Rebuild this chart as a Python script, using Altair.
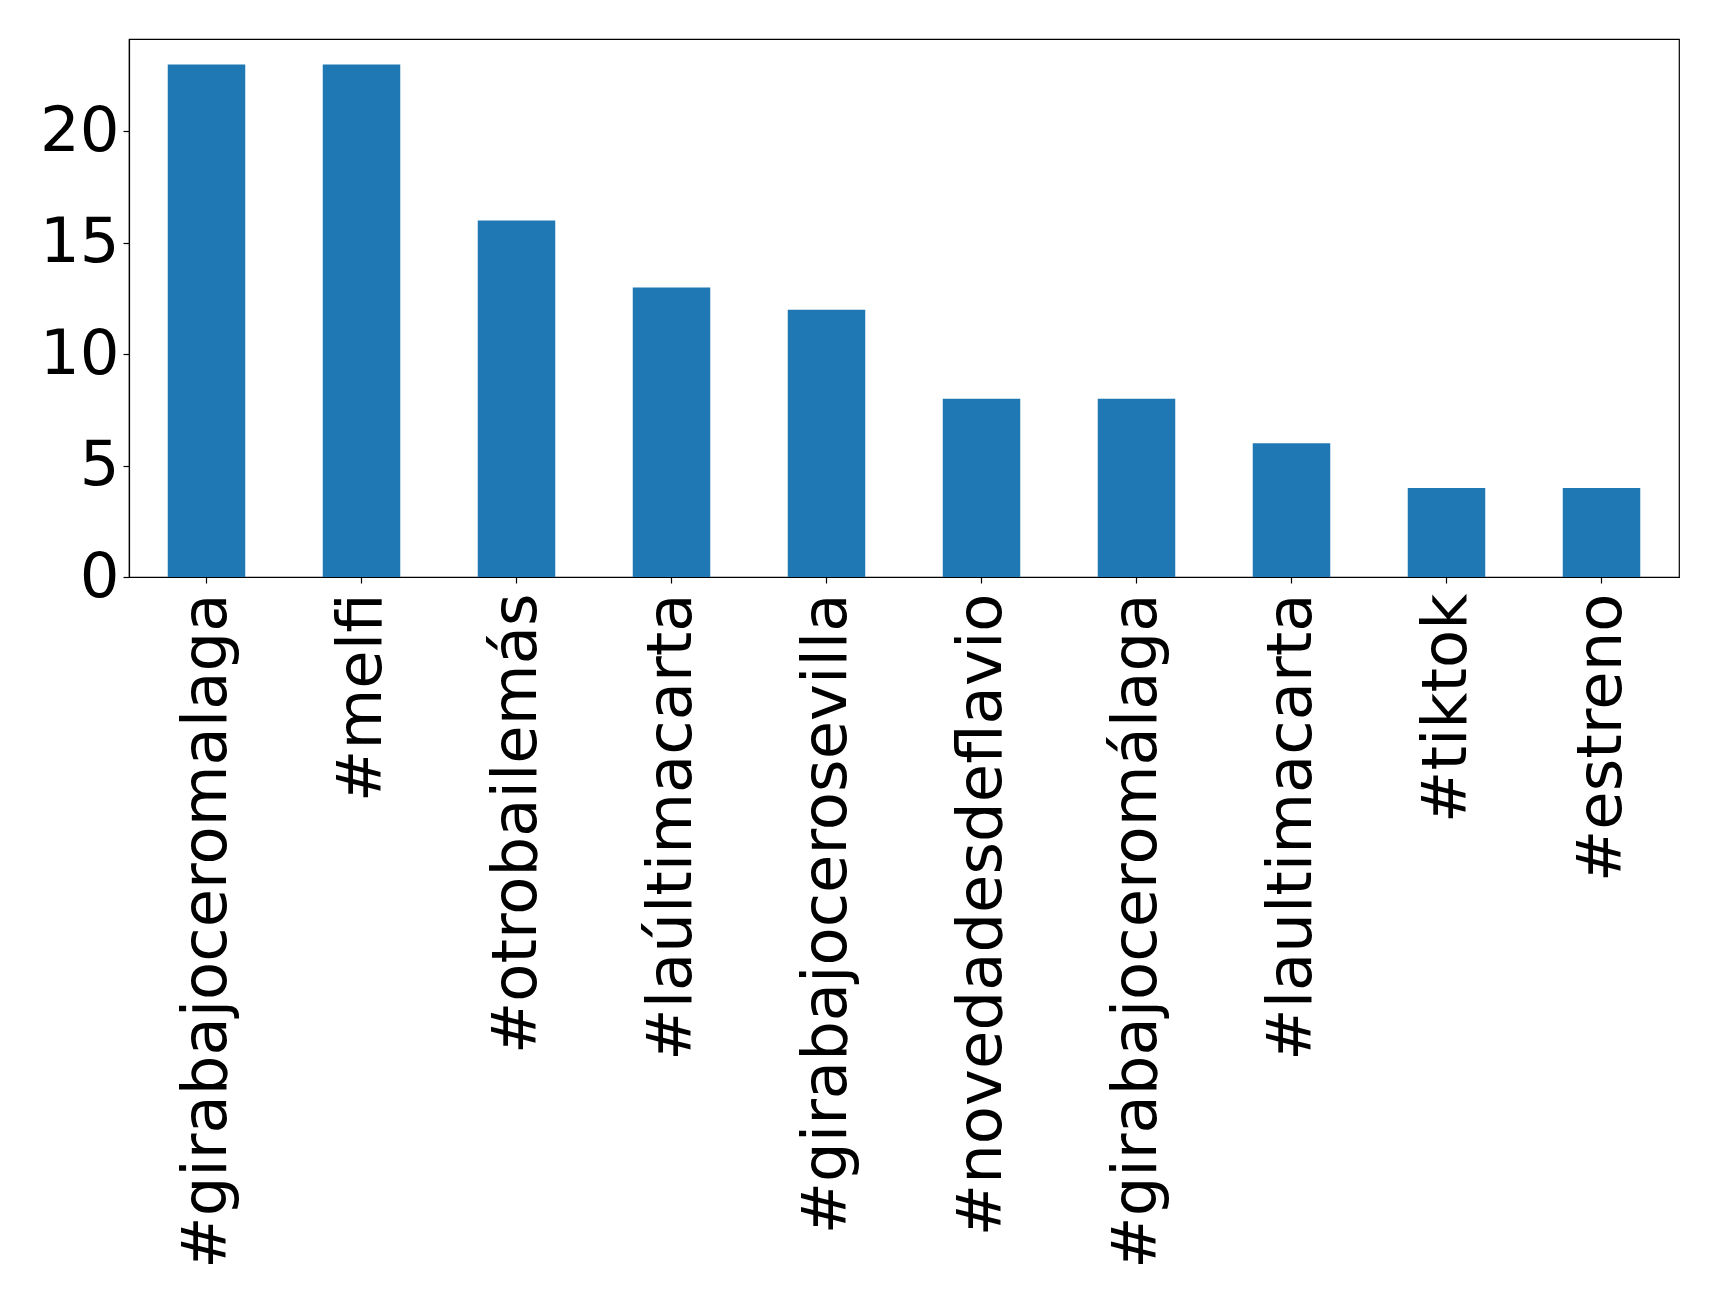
import altair as alt
import pandas as pd

tags = ['#girabajoceromalaga', '#melfi', '#otrobailemás', '#laúltimacarta',
        '#girabajocerosevilla', '#novedadesdeflavio', '#girabajoceromálaga',
        '#laultimacarta', '#tiktok', '#estreno']
counts = [23, 23, 16, 13, 12, 8, 8, 6, 4, 4]
y_ticks = [0, 5, 10, 15, 20]

df = pd.DataFrame({"tag": tags, "count": counts})

chart = alt.Chart(df).mark_bar(color="#1f77b4").encode(
    x=alt.X("tag:N", sort=None, title=None,
            scale=alt.Scale(paddingInner=0.5, paddingOuter=0.25),
            axis=alt.Axis(labelAngle=-90, labelFontSize=62.5, labelFont="DejaVu Sans",
                          labelColor="black", labelLimit=2000, labelPadding=10,
                          tickSize=6, tickColor="black", domainColor="black",
                          labelOverlap=False)),
    y=alt.Y("count:Q", title=None,
            scale=alt.Scale(domain=[0, 24.15], nice=False),
            axis=alt.Axis(values=y_ticks, labelFontSize=62.5, labelFont="DejaVu Sans",
                          labelColor="black", labelPadding=4, tickSize=6,
                          tickColor="black", domainColor="black", grid=False,
                          labelOverlap=False))
).properties(
    width=1550, height=538,
    autosize=alt.AutoSizeParams(type="none"),
    padding={"left": 121, "top": 31, "right": 30, "bottom": 700}
).configure_view(stroke="black", strokeWidth=1.2).configure_axis(domainWidth=1.2, tickWidth=1.2)

chart.save("out.html", embed_options={"renderer": "svg", "actions": False})
